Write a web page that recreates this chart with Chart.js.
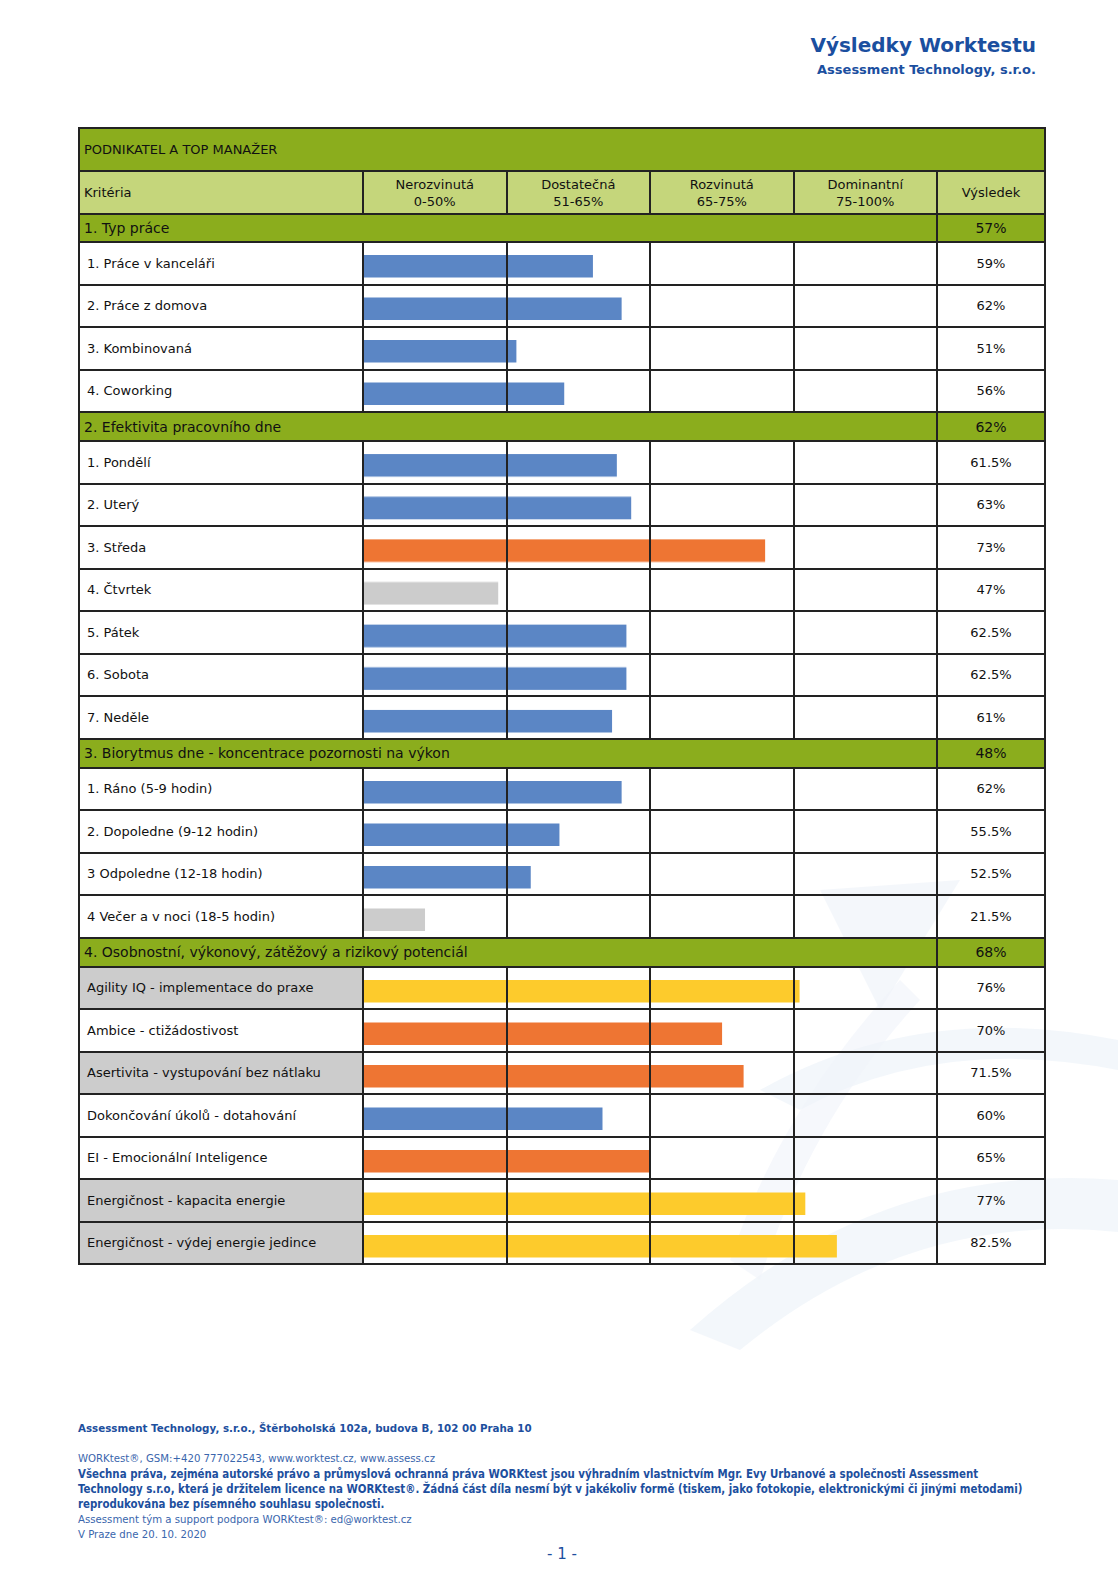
<!DOCTYPE html>
<html lang="cs">
<head>
<meta charset="utf-8">
<title>Výsledky Worktestu</title>
<script src="https://cdn.jsdelivr.net/npm/chart.js@4.4.1/dist/chart.umd.min.js"></script>
<style>
  body { margin: 0; background: #fff; font-family: "DejaVu Sans", sans-serif; color: #111; }
  #page { position: relative; width: 1118px; height: 1582px; overflow: hidden; }
  #mark { position: absolute; left: 670px; top: 860px; width: 448px; height: 520px; z-index: 0; }
  .head1 { position: absolute; right: 82px; top: 33px; font-size: 20px; font-weight: bold; color: #1b4f9f; }
  .head2 { position: absolute; right: 82px; top: 62px; font-size: 13px; font-weight: bold; color: #1b4f9f; }
  #tbl { position: absolute; left: 78px; top: 127px; border-collapse: collapse; table-layout: fixed; z-index: 1; font-size: 13px; }
  #tbl td { border: 2px solid #222; padding: 0; }
  #tbl tr.title td { background: #8bad1d; padding-left: 4px; height: 41px; }
  #tbl tr.hdr td { background: #c5d67b; text-align: center; line-height: 17px; height: 41px; }
  #tbl tr.hdr td.first { text-align: left; padding-left: 4px; }
  #tbl tr.grp td { background: #8bad1d; font-size: 14px; padding-left: 4px; }
  #tbl tr.grp td.res { text-align: center; padding-left: 0; }
  #tbl tr.item td.lab { padding-left: 7px; }
  #tbl tr.item td.lab.shaded { background: #cccccc; }
  #tbl td.res { text-align: center; }
  .bars-wrap { position: absolute; z-index: 2; }
  .foot { position: absolute; left: 78px; color: #3a66ad; font-size: 11.3px; }
  .foot.b { font-weight: bold; color: #1d4f9e; }
  .cond { font-family: "DejaVu Sans Condensed", "DejaVu Sans", sans-serif; font-stretch: condensed; }
  .pnum { position: absolute; left: 3px; width: 1118px; text-align: center; top: 1545px; font-size: 15px; color: #1d4f9e; }
</style>
</head>
<body>
<div id="page">
  <svg id="mark" viewBox="0 0 448 520">
    <path d="M 20 470 Q 210 300 448 320 L 448 372 Q 240 350 70 490 Z" fill="#eef3fa" opacity="0.7"/>
    <path d="M 90 230 Q 250 140 448 180 L 448 210 Q 270 175 130 250 Z" fill="#eef3fa" opacity="0.7"/>
    <path d="M 150 30 L 290 20 L 210 150 Z" fill="#f0f4fa" opacity="0.7"/>
    <path d="M 60 400 Q 110 250 230 120 L 250 140 Q 140 260 90 420 Z" fill="#f0f4fa" opacity="0.6"/>
  </svg>
  <div class="head1">Výsledky Worktestu</div>
  <div class="head2">Assessment Technology, s.r.o.</div>
  <table id="tbl">
    <colgroup>
      <col style="width:284px"><col style="width:143.5px"><col style="width:143.5px"><col style="width:143.5px"><col style="width:143.5px"><col style="width:108px">
    </colgroup>
    <tbody id="tbody"></tbody>
  </table>
  <div class="foot b" style="top:1422px; font-size:10.3px">Assessment Technology, s.r.o., Štěrboholská 102a, budova B, 102 00 Praha 10</div>
  <div class="foot cond" style="top:1452px">WORKtest®, GSM:+420 777022543, www.worktest.cz, www.assess.cz</div>
  <div class="foot b cond" style="top:1467px; line-height:15px; font-size:11.4px">Všechna práva, zejména autorské právo a průmyslová ochranná práva WORKtest jsou výhradním vlastnictvím Mgr. Evy Urbanové a společnosti Assessment<br>Technology s.r.o, která je držitelem licence na WORKtest®. Žádná část díla nesmí být v jakékoliv formě (tiskem, jako fotokopie, elektronickými či jinými metodami)<br>reprodukována bez písemného souhlasu společnosti.</div>
  <div class="foot cond" style="top:1513px">Assessment tým a support podpora WORKtest®: ed@worktest.cz</div>
  <div class="foot cond" style="top:1528px">V Praze dne 20. 10. 2020</div>
  <div class="pnum">- 1 -</div>
</div>
<script>
// pásma hodnocení (nelineární osa)
const bandEdges = [0, 50, 65, 75, 100]
const bandNames = ['Nerozvinutá', 'Dostatečná', 'Rozvinutá', 'Dominantní']
const bandRanges = ['0-50%', '51-65%', '65-75%', '75-100%']

const groupTitles = [
    '1. Typ práce',
    '2. Efektivita pracovního dne',
    '3. Biorytmus dne - koncentrace pozornosti na výkon',
    '4. Osobnostní, výkonový, zátěžový a rizikový potenciál'
]
const groupResults = [57, 62, 48, 68]

const typPraceLabels = ['1. Práce v kanceláři', '2. Práce z domova', '3. Kombinovaná', '4. Coworking']
const typPraceValues = [59, 62, 51, 56]

const efektivitaLabels = ['1. Pondělí', '2. Uterý', '3. Středa', '4. Čtvrtek', '5. Pátek', '6. Sobota', '7. Neděle']
const efektivitaValues = [61.5, 63, 73, 47, 62.5, 62.5, 61]

const biorytmusLabels = ['1. Ráno (5-9 hodin)', '2. Dopoledne (9-12 hodin)', '3 Odpoledne (12-18 hodin)', '4 Večer a v noci (18-5 hodin)']
const biorytmusValues = [62, 55.5, 52.5, 21.5]

const potencialLabels = [
    'Agility IQ - implementace do praxe',
    'Ambice - ctižádostivost',
    'Asertivita - vystupování bez nátlaku',
    'Dokončování úkolů - dotahování',
    'EI - Emocionální Inteligence',
    'Energičnost - kapacita energie',
    'Energičnost - výdej energie jedince'
]
const potencialValues = [76, 70, 71.5, 60, 65, 77, 82.5]
const potencialShaded = [true, false, true, false, false, true, true]

const groups = [
    { labels: typPraceLabels, values: typPraceValues },
    { labels: efektivitaLabels, values: efektivitaValues },
    { labels: biorytmusLabels, values: biorytmusValues },
    { labels: potencialLabels, values: potencialValues, shaded: potencialShaded }
]

// procenta -> pozice na ose 0..4 (každé pásmo má stejnou šířku sloupce)
function toAxis(p) {
    for (let i = 0; i < bandNames.length; i++) {
        if (p <= bandEdges[i + 1]) {
            return i + (p - bandEdges[i]) / (bandEdges[i + 1] - bandEdges[i])
        }
    }
    return bandNames.length
}

function barColor(p) {
    if (p < 50) return '#cccccc'
    if (p < 65) return '#5b86c5'
    if (p < 75) return '#ee7533'
    return '#fdcb2c'
}

function buildTable() {
    const tb = document.getElementById('tbody')
    let html = '<tr class="title"><td colspan="6">PODNIKATEL A TOP MANAŽER</td></tr>'
    html += '<tr class="hdr"><td class="first">Kritéria</td>'
    bandNames.forEach((n, i) => { html += `<td>${n}<br>${bandRanges[i]}</td>` })
    html += '<td>Výsledek</td></tr>'

    groups.forEach((g, gi) => {
        html += `<tr class="grp" style="height:${gi === 0 ? 28 : 29}px"><td colspan="5">${groupTitles[gi]}</td><td class="res">${groupResults[gi]}%</td></tr>`
        g.labels.forEach((lab, i) => {
            const sh = g.shaded && g.shaded[i] ? ' shaded' : ''
            html += `<tr class="item" style="height:42.5px"><td class="lab${sh}">${lab}</td>` +
                `<td colspan="4" class="bars g${gi}"></td><td class="res">${g.values[i]}%</td></tr>`
        })
    })
    tb.innerHTML = html
}

function drawBars() {
    const page = document.getElementById('page').getBoundingClientRect()
    groups.forEach((g, gi) => {
        const cells = document.querySelectorAll('td.bars.g' + gi)
        const first = cells[0].getBoundingClientRect()
        const last = cells[cells.length - 1].getBoundingClientRect()
        const wrap = document.createElement('div')
        wrap.className = 'bars-wrap'
        wrap.style.left = (first.left - page.left) + 'px'
        wrap.style.top = (first.top - page.top) + 'px'
        wrap.style.width = first.width + 'px'
        wrap.style.height = (last.bottom - first.top) + 'px'
        const canvas = document.createElement('canvas')
        wrap.appendChild(canvas)
        document.getElementById('page').appendChild(wrap)

        const n = g.values.length
        const rowH = (last.bottom - first.top) / n
        const shift = 3 / rowH

        new Chart(canvas.getContext('2d'), {
            type: 'bar',
            data: {
                datasets: [{
                    data: g.values.map((v, i) => ({ x: toAxis(v), y: i })),
                    backgroundColor: g.values.map(barColor),
                    borderWidth: 0,
                    barThickness: 22
                }]
            },
            options: {
                indexAxis: 'y',
                responsive: true,
                maintainAspectRatio: false,
                animation: false,
                layout: { padding: 0 },
                plugins: {
                    legend: { display: false },
                    tooltip: {
                        callbacks: {
                            title: items => g.labels[items[0].dataIndex],
                            label: item => g.values[item.dataIndex] + '%'
                        }
                    }
                },
                scales: {
                    x: {
                        type: 'linear',
                        min: 0,
                        max: bandNames.length,
                        afterFit: s => { s.height = 0 },
                        ticks: { display: false, stepSize: 1 },
                        grid: { color: '#222', lineWidth: 2, drawTicks: false, z: 1 },
                        border: { display: false }
                    },
                    y: {
                        type: 'linear',
                        display: false,
                        offset: false,
                        grace: 0,
                        reverse: true,
                        min: -0.5 - shift,
                        max: n - 0.5 - shift,
                        grid: { offset: false }
                    }
                }
            }
        })
    })
}

buildTable()
drawBars()
</script>
</body>
</html>
